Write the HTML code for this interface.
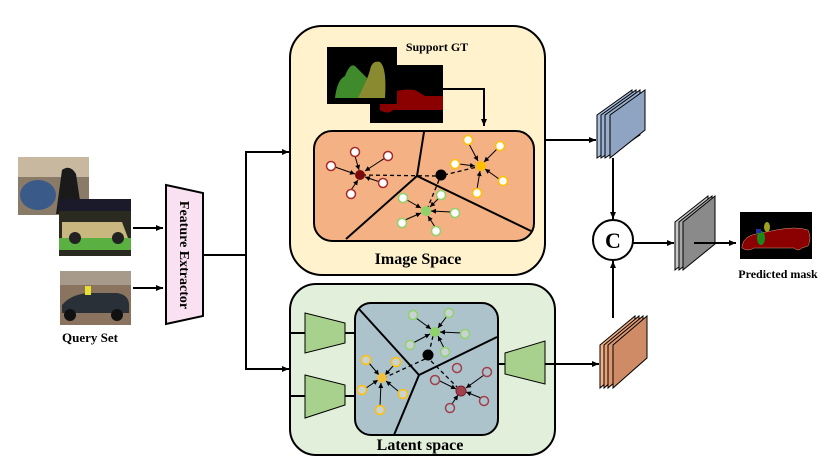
<!DOCTYPE html>
<html><head><meta charset="utf-8"><style>
html,body{margin:0;padding:0;background:#fff;}
svg{display:block;font-family:"Liberation Serif",serif;}
</style></head><body>
<svg width="830" height="467" viewBox="0 0 830 467" xmlns="http://www.w3.org/2000/svg">
<defs>
<marker id="ah" markerWidth="8" markerHeight="8" refX="7" refY="4" orient="auto" markerUnits="userSpaceOnUse"><path d="M0,1 L7,4 L0,7 z" fill="#000"/></marker>
<marker id="as" markerWidth="6" markerHeight="6" refX="5" refY="3" orient="auto" markerUnits="userSpaceOnUse"><path d="M0,0.5 L5,3 L0,5.5 z" fill="#000"/></marker>
</defs>

<rect x="18" y="157" width="71" height="58" fill="#8a7a68"/>
<rect x="18" y="157" width="71" height="20" fill="#c8b8a0"/>
<ellipse cx="38" cy="195" rx="18" ry="15" fill="#3a5a8a"/>
<path d="M62,170 q8,-6 14,4 l6,40 h-26z" fill="#1a1a1a"/>
<rect x="59" y="199" width="72" height="57" fill="#2a2a20"/>
<rect x="59" y="199" width="72" height="12" fill="#1a1a2a"/>
<path d="M62,222 h60 l6,16 h-66z" fill="#c8b880"/>
<rect x="59" y="238" width="72" height="12" fill="#5ab040"/>
<circle cx="75" cy="238" r="6" fill="#222"/><circle cx="118" cy="238" r="6" fill="#222"/>
<rect x="60" y="271" width="71" height="54" fill="#8a7460"/>
<rect x="60" y="271" width="71" height="14" fill="#a89a8a"/>
<path d="M62,305 q10,-12 30,-12 h25 q12,2 12,12 v8 h-67z" fill="#2a3038"/>
<circle cx="70" cy="315" r="6" fill="#111"/><circle cx="117" cy="315" r="6" fill="#111"/>
<rect x="85" y="286" width="6" height="9" fill="#e8e030"/>
<text x="90" y="342" font-size="13" font-weight="bold" text-anchor="middle">Query Set</text>

<line x1="133" y1="228" x2="163" y2="228" stroke="#000" stroke-width="2" marker-end="url(#ah)"/>
<line x1="133" y1="288" x2="163" y2="288" stroke="#000" stroke-width="2" marker-end="url(#ah)"/>

<polygon points="166,185 203,193 203,316 166,324" fill="#f9e1f1" stroke="#000" stroke-width="2"/>
<text transform="translate(180,255) rotate(90)" font-size="14" font-weight="bold" text-anchor="middle">Feature Extractor</text>

<polyline points="203,255 246,255" fill="none" stroke="#000" stroke-width="2"/>
<polyline points="288,152 246,152 246,369 288,369" fill="none" stroke="#000" stroke-width="2"/>
<line x1="280" y1="152" x2="289" y2="152" stroke="#000" stroke-width="2" marker-end="url(#ah)"/>
<line x1="280" y1="369" x2="289" y2="369" stroke="#000" stroke-width="2" marker-end="url(#ah)"/>

<rect x="290" y="26" width="255" height="249" rx="32" fill="#fff2cc" stroke="#000" stroke-width="2"/>
<text x="437" y="51" font-size="12" font-weight="bold" text-anchor="middle">Support GT</text>
<rect x="370" y="65" width="73" height="58" fill="#000"/>
<path d="M380,98 q15,-10 35,-8 l10,6 h18 v14 h-50 q-5,5 -13,0 z" fill="#8b0000"/>
<rect x="327" y="47" width="70" height="57" fill="#000"/>
<path d="M335,98 q2,-18 10,-22 q6,-16 12,-8 q6,6 10,10 l-5,20z" fill="#3f8a2a"/>
<path d="M358,98 q10,-20 12,-28 q2,-10 10,-8 q7,6 5,36z" fill="#8a8a30"/>
<polyline points="443,89 484,89 484,126" fill="none" stroke="#000" stroke-width="2" marker-end="url(#ah)"/>
<rect x="314" y="131" width="220" height="110" rx="18" fill="#f4b183" stroke="#000" stroke-width="2"/>
<g stroke="#000" stroke-width="2">
<line x1="417" y1="176" x2="424" y2="132"/>
<line x1="417" y1="176" x2="346" y2="239"/>
<line x1="417" y1="176" x2="531" y2="231"/>
</g>
<g stroke="#000" stroke-width="1.3" stroke-dasharray="4,3" fill="none">
<line x1="362" y1="175" x2="437" y2="176"/>
<line x1="444" y1="175" x2="477" y2="167"/>
<line x1="439" y1="180" x2="428" y2="207"/>
</g>
<g stroke="#000" stroke-width="1" marker-end="url(#as)">
<line x1="355" y1="156" x2="359" y2="170"/>
<line x1="335" y1="167" x2="355" y2="174"/>
<line x1="385" y1="158" x2="365" y2="171"/>
<line x1="351" y1="190" x2="358" y2="180"/>
<line x1="380" y1="182" x2="365" y2="177"/>
<line x1="469" y1="144" x2="478" y2="161"/>
<line x1="497" y1="149" x2="484" y2="162"/>
<line x1="459" y1="164" x2="475" y2="166"/>
<line x1="499" y1="179" x2="485" y2="169"/>
<line x1="477" y1="189" x2="480" y2="171"/>
<line x1="439" y1="198" x2="430" y2="207"/>
<line x1="407" y1="200" x2="421" y2="208"/>
<line x1="451" y1="212" x2="431" y2="211"/>
<line x1="405" y1="220" x2="421" y2="213"/>
<line x1="435" y1="227" x2="428" y2="216"/>
</g>
<g stroke-width="1.5" fill="#fff">
<circle cx="355" cy="152" r="4.5" stroke="#a52a2a"/>
<circle cx="331" cy="166" r="4.5" stroke="#a52a2a"/>
<circle cx="388" cy="156" r="4.5" stroke="#a52a2a"/>
<circle cx="351" cy="194" r="4.5" stroke="#a52a2a"/>
<circle cx="383" cy="183" r="4.5" stroke="#a52a2a"/>
<circle cx="468" cy="140" r="4.5" stroke="#ffc000"/>
<circle cx="500" cy="146" r="4.5" stroke="#ffc000"/>
<circle cx="455" cy="164" r="4.5" stroke="#ffc000"/>
<circle cx="503" cy="181" r="4.5" stroke="#ffc000"/>
<circle cx="477" cy="193" r="4.5" stroke="#ffc000"/>
<circle cx="441" cy="195" r="4.5" stroke="#8fd16a"/>
<circle cx="403" cy="198" r="4.5" stroke="#8fd16a"/>
<circle cx="455" cy="213" r="4.5" stroke="#8fd16a"/>
<circle cx="402" cy="223" r="4.5" stroke="#8fd16a"/>
<circle cx="436" cy="231" r="4.5" stroke="#8fd16a"/>
</g>
<circle cx="360" cy="175" r="5" fill="#7b0a0a"/>
<circle cx="441" cy="175" r="5.5" fill="#000"/>
<circle cx="481" cy="166" r="5" fill="#ffc000"/>
<circle cx="426" cy="211" r="5" fill="#8fd16a"/>
<text x="418" y="264" font-size="16" font-weight="bold" text-anchor="middle">Image Space</text>

<rect x="290" y="284" width="265" height="171" rx="26" fill="#e2efda" stroke="#000" stroke-width="2"/>
<rect x="355" y="303" width="143" height="132" rx="16" fill="#adc3cc" stroke="#000" stroke-width="2"/>
<g stroke="#000" stroke-width="2">
<line x1="290" y1="333" x2="305" y2="333"/><line x1="345" y1="333" x2="355" y2="333"/>
<line x1="290" y1="396" x2="305" y2="396"/><line x1="345" y1="396" x2="355" y2="396"/>
<line x1="498" y1="364" x2="505" y2="364"/><line x1="545" y1="364" x2="555" y2="364"/>
<line x1="419" y1="375" x2="359" y2="309"/>
<line x1="419" y1="375" x2="497" y2="337"/>
<line x1="419" y1="375" x2="394" y2="435"/>
</g>
<polygon points="305,313 345,323 345,343 305,353" fill="#a9d18e" stroke="#000" stroke-width="1"/>
<polygon points="305,375 345,385 345,405 305,418" fill="#a9d18e" stroke="#000" stroke-width="1"/>
<polygon points="505,353 545,341 545,384 505,374" fill="#a9d18e" stroke="#000" stroke-width="1"/>
<g stroke="#000" stroke-width="1.3" stroke-dasharray="4,3" fill="none">
<line x1="433" y1="336" x2="429" y2="353"/>
<line x1="425" y1="359" x2="386" y2="377"/>
<line x1="431" y1="361" x2="457" y2="387"/>
</g>
<g stroke="#000" stroke-width="1" marker-end="url(#as)">
<line x1="416" y1="318" x2="431" y2="329"/>
<line x1="447" y1="316" x2="438" y2="328"/>
<line x1="462" y1="333" x2="440" y2="332"/>
<line x1="413" y1="343" x2="430" y2="334"/>
<line x1="444" y1="348" x2="438" y2="336"/>
<line x1="369" y1="363" x2="379" y2="375"/>
<line x1="394" y1="365" x2="385" y2="375"/>
<line x1="366" y1="388" x2="378" y2="380"/>
<line x1="398" y1="391" x2="386" y2="381"/>
<line x1="380" y1="406" x2="381" y2="383"/>
<line x1="440" y1="381" x2="456" y2="389"/>
<line x1="484" y1="375" x2="466" y2="388"/>
<line x1="481" y1="398" x2="466" y2="392"/>
<line x1="452" y1="404" x2="458" y2="395"/>
</g>
<g stroke-width="1.5" fill="#c9d3d6">
<circle cx="413" cy="315" r="4.5" stroke="#8fd16a"/>
<circle cx="449" cy="313" r="4.5" stroke="#8fd16a"/>
<circle cx="465" cy="334" r="4.5" stroke="#8fd16a"/>
<circle cx="410" cy="345" r="4.5" stroke="#8fd16a"/>
<circle cx="445" cy="352" r="4.5" stroke="#8fd16a"/>
<circle cx="366" cy="360" r="4.5" stroke="#ffc000"/>
<circle cx="396" cy="362" r="4.5" stroke="#ffc000"/>
<circle cx="362" cy="390" r="4.5" stroke="#ffc000"/>
<circle cx="403" cy="394" r="4.5" stroke="#ffc000"/>
<circle cx="380" cy="410" r="4.5" stroke="#ffc000"/>
</g>
<g stroke-width="1.5" fill="none" stroke="#a0404a">
<circle cx="457" cy="368" r="4.5"/>
<circle cx="487" cy="372" r="4.5"/>
<circle cx="435" cy="380" r="4.5"/>
<circle cx="484" cy="401" r="4.5"/>
<circle cx="450" cy="408" r="4.5"/>
</g>
<circle cx="435" cy="332" r="5" fill="#8fd16a"/>
<circle cx="428" cy="355" r="5.5" fill="#000"/>
<circle cx="382" cy="378" r="5" fill="#f0c040"/>
<circle cx="461" cy="391" r="5" fill="#a0404a" stroke="#7a2030"/>
<text x="420" y="450" font-size="16" font-weight="bold" text-anchor="middle">Latent space</text>

<line x1="545" y1="140" x2="596" y2="140" stroke="#000" stroke-width="2" marker-end="url(#ah)"/>
<line x1="555" y1="364" x2="599" y2="364" stroke="#000" stroke-width="2" marker-end="url(#ah)"/>
<line x1="613" y1="158" x2="613" y2="219" stroke="#000" stroke-width="2" marker-end="url(#ah)"/>
<line x1="613" y1="318" x2="613" y2="261" stroke="#000" stroke-width="2" marker-end="url(#ah)"/>
<circle cx="613" cy="240" r="20" fill="#fff" stroke="#000" stroke-width="2"/>
<text x="613" y="248" font-size="22" font-weight="bold" text-anchor="middle">C</text>
<line x1="633" y1="243" x2="674" y2="243" stroke="#000" stroke-width="2" marker-end="url(#ah)"/>

<g stroke="#000" stroke-width="1">
<polygon points="597,115 632,90 632,135 597,158" fill="#a8bede"/>
<polygon points="601,115 636,90 636,135 601,158" fill="#9cb2d2"/>
<polygon points="605,115 640,90 640,135 605,158" fill="#98aecc"/>
<polygon points="610,115 645,90 645,130 610,158" fill="#8ea4c2"/>
</g>
<g stroke="#000" stroke-width="1">
<polygon points="600,345 635,316 635,358 600,388" fill="#f4b183"/>
<polygon points="604,345 639,316 639,358 604,388" fill="#e8a077"/>
<polygon points="608,345 643,316 643,358 608,388" fill="#dc9670"/>
<polygon points="613,345 647,316 647,358 613,388" fill="#cf8b66"/>
</g>
<g stroke="#000" stroke-width="1">
<polygon points="675,222 708,196 708,244 675,270" fill="#c8c8c8"/>
<polygon points="679,222 712,196 712,244 679,270" fill="#a8a8a8"/>
<polygon points="683,222 715,196 715,244 683,270" fill="#8a8a8a"/>
</g>
<line x1="694" y1="243" x2="736" y2="243" stroke="#000" stroke-width="2" marker-end="url(#ah)"/>
<rect x="740" y="212" width="72" height="47" fill="#000"/>
<path d="M742,246 q2,-10 14,-12 l20,-4 q20,-4 32,0 q4,8 0,16 l-6,2 q-4,4 -8,0 h-40 q-6,4 -12,0z" fill="#8b0000" stroke="#c8a080" stroke-width="0.5"/>
<ellipse cx="761" cy="238" rx="4" ry="7" fill="#1a8a1a"/>
<ellipse cx="767" cy="227" rx="3" ry="5" fill="#a0a020"/>
<rect x="756" y="229" width="5" height="4" fill="#2030a0"/>
<text x="778" y="278" font-size="12" font-weight="bold" text-anchor="middle">Predicted mask</text>
</svg>
</body></html>
